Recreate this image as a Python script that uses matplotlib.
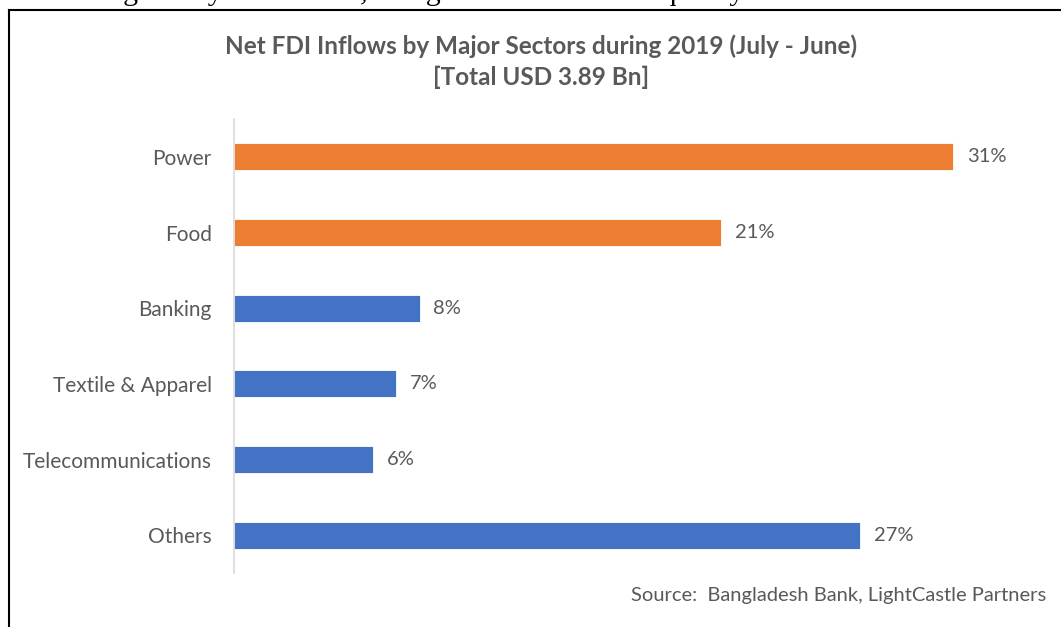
import matplotlib
matplotlib.use("Agg")
import matplotlib.pyplot as plt
from matplotlib.lines import Line2D

categories = ["Power", "Food", "Banking", "Textile & Apparel", "Telecommunications", "Others"]
values = [31, 21, 8, 7, 6, 27]
colors = ["#ED7D31", "#ED7D31", "#4472C4", "#4472C4", "#4472C4", "#4472C4"]
labels = ["31%", "21%", "8%", "7%", "6%", "27%"]

W, H = 1061, 627
fig = plt.figure(figsize=(W / 100, H / 100), dpi=100)
fig.patch.set_facecolor("white")

def fx(px):
    return px / W

def fy(py):
    return 1 - py / H

# cut-off paragraph text at top (only descenders visible)
fig.text(fx(100), fy(-0.5), "regulatory constraints, and good infrastructure quality.",
         fontsize=21.5, family="Liberation Serif", color="black", ha="left", va="baseline")

# border (top and left edges visible)
fig.add_artist(Line2D([fx(9), fx(W + 5)], [fy(10), fy(10)], color="black", lw=1.5,
                      transform=fig.transFigure))
fig.add_artist(Line2D([fx(9), fx(9)], [fy(10), fy(H + 5)], color="black", lw=1.5,
                      transform=fig.transFigure))

TXT = "#595959"
FONT = "Lato"

ax = fig.add_axes([fx(234), fy(573), fx(1040) - fx(234), fy(119) - fy(573)])
ypos = list(range(len(categories)))
ax.barh(ypos, values, height=0.36, color=colors, edgecolor="white", linewidth=0.6)
ax.set_ylim(len(categories) - 0.5, -0.5)
ax.set_xlim(0, (1040 - 234) / 23.2)
ax.set_yticks(ypos)
ax.set_yticklabels(categories, fontsize=15, color=TXT, family=FONT)
ax.tick_params(axis="y", length=0, pad=16)
ax.set_xticks([])
for s in ["top", "right", "bottom"]:
    ax.spines[s].set_visible(False)
ax.spines["left"].set_color("#D9D9D9")
ax.spines["left"].set_linewidth(1.2)

for y, v, lab in zip(ypos, values, labels):
    ax.annotate(lab, xy=(v, y), xytext=(10, 0), textcoords="offset points",
                va="center", ha="left", fontsize=14.5, color=TXT, family=FONT)

fig.text(fx(541), fy(46), "Net FDI Inflows by Major Sectors during 2019 (July - June)",
         ha="center", va="center", fontsize=17.5, fontweight="bold", color=TXT, family=FONT)
fig.text(fx(541), fy(77), "[Total USD 3.89 Bn]",
         ha="center", va="center", fontsize=17.5, fontweight="bold", color=TXT, family=FONT)

fig.text(fx(1046), fy(596), "Source:  Bangladesh Bank, LightCastle Partners",
         ha="right", va="center", fontsize=14.5, color=TXT, family=FONT)

fig.savefig("out.png", dpi=100)
